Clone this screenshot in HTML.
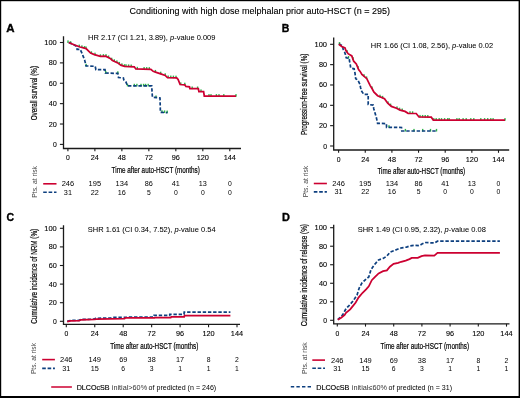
<!DOCTYPE html><html><head><meta charset="utf-8"><style>html,body{margin:0;padding:0;background:#fff;}svg{display:block;font-family:"Liberation Sans",sans-serif;filter:blur(0.3px);}</style></head><body>
<svg width="520" height="398" viewBox="0 0 520 398">
<rect x="0" y="0" width="520" height="398" fill="#fff"/>
<text x="129.5" y="13.9" font-size="9.1" text-anchor="start" font-weight="normal" font-style="normal" fill="#000" textLength="260.5" lengthAdjust="spacingAndGlyphs" stroke="#000" stroke-width="0.12">Conditioning with high dose melphalan prior auto-HSCT (n = 295)</text>
<text x="6.3" y="31.9" font-size="11" text-anchor="start" font-weight="bold" font-style="normal" fill="#000" textLength="8.3" lengthAdjust="spacingAndGlyphs" stroke="#000" stroke-width="0.35">A</text>
<text x="281.7" y="31.9" font-size="11" text-anchor="start" font-weight="bold" font-style="normal" fill="#000" textLength="7.6" lengthAdjust="spacingAndGlyphs" stroke="#000" stroke-width="0.35">B</text>
<text x="6.6" y="221.4" font-size="11" text-anchor="start" font-weight="bold" font-style="normal" fill="#000" textLength="7.6" lengthAdjust="spacingAndGlyphs" stroke="#000" stroke-width="0.35">C</text>
<text x="281.9" y="220.9" font-size="11" text-anchor="start" font-weight="bold" font-style="normal" fill="#000" textLength="7.9" lengthAdjust="spacingAndGlyphs" stroke="#000" stroke-width="0.35">D</text>
<path d="M63.5,36.3 L63.5,148.5 L241,148.5" fill="none" stroke="#1a1a1a" stroke-width="1.3" stroke-linejoin="miter" stroke-linecap="butt"/>
<line x1="59.9" y1="144.4" x2="63.5" y2="144.4" stroke="#1a1a1a" stroke-width="1.1"/>
<text x="53.0" y="146.9" font-size="7" text-anchor="start" font-weight="normal" font-style="normal" fill="#000" textLength="3.8" lengthAdjust="spacingAndGlyphs" stroke="#000" stroke-width="0.1">0</text>
<line x1="59.9" y1="124.02" x2="63.5" y2="124.02" stroke="#1a1a1a" stroke-width="1.1"/>
<text x="48.7" y="126.52" font-size="7" text-anchor="start" font-weight="normal" font-style="normal" fill="#000" textLength="8.1" lengthAdjust="spacingAndGlyphs" stroke="#000" stroke-width="0.1">20</text>
<line x1="59.9" y1="103.64" x2="63.5" y2="103.64" stroke="#1a1a1a" stroke-width="1.1"/>
<text x="48.7" y="106.14" font-size="7" text-anchor="start" font-weight="normal" font-style="normal" fill="#000" textLength="8.1" lengthAdjust="spacingAndGlyphs" stroke="#000" stroke-width="0.1">40</text>
<line x1="59.9" y1="83.26" x2="63.5" y2="83.26" stroke="#1a1a1a" stroke-width="1.1"/>
<text x="48.7" y="85.76" font-size="7" text-anchor="start" font-weight="normal" font-style="normal" fill="#000" textLength="8.1" lengthAdjust="spacingAndGlyphs" stroke="#000" stroke-width="0.1">60</text>
<line x1="59.9" y1="62.88" x2="63.5" y2="62.88" stroke="#1a1a1a" stroke-width="1.1"/>
<text x="48.7" y="65.38" font-size="7" text-anchor="start" font-weight="normal" font-style="normal" fill="#000" textLength="8.1" lengthAdjust="spacingAndGlyphs" stroke="#000" stroke-width="0.1">80</text>
<line x1="59.9" y1="42.5" x2="63.5" y2="42.5" stroke="#1a1a1a" stroke-width="1.1"/>
<text x="44.3" y="45.0" font-size="7" text-anchor="start" font-weight="normal" font-style="normal" fill="#000" textLength="12.5" lengthAdjust="spacingAndGlyphs" stroke="#000" stroke-width="0.1">100</text>
<line x1="67.9" y1="148.5" x2="67.9" y2="151.3" stroke="#1a1a1a" stroke-width="1.1"/>
<text x="66.0" y="160.4" font-size="7" text-anchor="start" font-weight="normal" font-style="normal" fill="#000" textLength="3.8" lengthAdjust="spacingAndGlyphs" stroke="#000" stroke-width="0.1">0</text>
<line x1="94.88" y1="148.5" x2="94.88" y2="151.3" stroke="#1a1a1a" stroke-width="1.1"/>
<text x="90.83" y="160.4" font-size="7" text-anchor="start" font-weight="normal" font-style="normal" fill="#000" textLength="8.1" lengthAdjust="spacingAndGlyphs" stroke="#000" stroke-width="0.1">24</text>
<line x1="121.87" y1="148.5" x2="121.87" y2="151.3" stroke="#1a1a1a" stroke-width="1.1"/>
<text x="117.82" y="160.4" font-size="7" text-anchor="start" font-weight="normal" font-style="normal" fill="#000" textLength="8.1" lengthAdjust="spacingAndGlyphs" stroke="#000" stroke-width="0.1">48</text>
<line x1="148.85" y1="148.5" x2="148.85" y2="151.3" stroke="#1a1a1a" stroke-width="1.1"/>
<text x="144.8" y="160.4" font-size="7" text-anchor="start" font-weight="normal" font-style="normal" fill="#000" textLength="8.1" lengthAdjust="spacingAndGlyphs" stroke="#000" stroke-width="0.1">72</text>
<line x1="175.83" y1="148.5" x2="175.83" y2="151.3" stroke="#1a1a1a" stroke-width="1.1"/>
<text x="171.78" y="160.4" font-size="7" text-anchor="start" font-weight="normal" font-style="normal" fill="#000" textLength="8.1" lengthAdjust="spacingAndGlyphs" stroke="#000" stroke-width="0.1">96</text>
<line x1="202.82" y1="148.5" x2="202.82" y2="151.3" stroke="#1a1a1a" stroke-width="1.1"/>
<text x="196.67" y="160.4" font-size="7" text-anchor="start" font-weight="normal" font-style="normal" fill="#000" textLength="12.3" lengthAdjust="spacingAndGlyphs" stroke="#000" stroke-width="0.1">120</text>
<line x1="229.8" y1="148.5" x2="229.8" y2="151.3" stroke="#1a1a1a" stroke-width="1.1"/>
<text x="223.65" y="160.4" font-size="7" text-anchor="start" font-weight="normal" font-style="normal" fill="#000" textLength="12.3" lengthAdjust="spacingAndGlyphs" stroke="#000" stroke-width="0.1">144</text>
<text x="111.6" y="173.1" font-size="8.5" text-anchor="start" font-weight="normal" font-style="normal" fill="#000" textLength="88.3" lengthAdjust="spacingAndGlyphs" stroke="#000" stroke-width="0.2">Time after auto-HSCT (months)</text>
<g transform="translate(37.0,120.3) rotate(-90)">
<text x="0" y="0" font-size="8.9" text-anchor="start" font-weight="normal" font-style="normal" fill="#000" textLength="54.3" lengthAdjust="spacingAndGlyphs" stroke="#000" stroke-width="0.2">Overall survival (%)</text>
</g>
<g transform="translate(37.2,197.7) rotate(-90)">
<text x="0" y="0" font-size="7.9" text-anchor="start" font-weight="normal" font-style="normal" fill="#444" textLength="31.7" lengthAdjust="spacingAndGlyphs">Pts. at risk</text>
</g>
<line x1="43.2" y1="183.8" x2="56.5" y2="183.8" stroke="#cc0031" stroke-width="1.6"/>
<line x1="43.2" y1="192.3" x2="56.5" y2="192.3" stroke="#0d3f7f" stroke-width="1.6" stroke-dasharray="3.6 1.8"/>
<text x="61.65" y="186.3" font-size="7" text-anchor="start" font-weight="normal" font-style="normal" fill="#000" textLength="12.5" lengthAdjust="spacingAndGlyphs">246</text>
<text x="63.85" y="194.8" font-size="7" text-anchor="start" font-weight="normal" font-style="normal" fill="#000" textLength="8.1" lengthAdjust="spacingAndGlyphs">31</text>
<text x="88.63" y="186.3" font-size="7" text-anchor="start" font-weight="normal" font-style="normal" fill="#000" textLength="12.5" lengthAdjust="spacingAndGlyphs">195</text>
<text x="90.83" y="194.8" font-size="7" text-anchor="start" font-weight="normal" font-style="normal" fill="#000" textLength="8.1" lengthAdjust="spacingAndGlyphs">22</text>
<text x="115.62" y="186.3" font-size="7" text-anchor="start" font-weight="normal" font-style="normal" fill="#000" textLength="12.5" lengthAdjust="spacingAndGlyphs">134</text>
<text x="117.82" y="194.8" font-size="7" text-anchor="start" font-weight="normal" font-style="normal" fill="#000" textLength="8.1" lengthAdjust="spacingAndGlyphs">16</text>
<text x="144.8" y="186.3" font-size="7" text-anchor="start" font-weight="normal" font-style="normal" fill="#000" textLength="8.1" lengthAdjust="spacingAndGlyphs">86</text>
<text x="146.95" y="194.8" font-size="7" text-anchor="start" font-weight="normal" font-style="normal" fill="#000" textLength="3.8" lengthAdjust="spacingAndGlyphs">5</text>
<text x="171.78" y="186.3" font-size="7" text-anchor="start" font-weight="normal" font-style="normal" fill="#000" textLength="8.1" lengthAdjust="spacingAndGlyphs">41</text>
<text x="173.93" y="194.8" font-size="7" text-anchor="start" font-weight="normal" font-style="normal" fill="#000" textLength="3.8" lengthAdjust="spacingAndGlyphs">0</text>
<text x="198.77" y="186.3" font-size="7" text-anchor="start" font-weight="normal" font-style="normal" fill="#000" textLength="8.1" lengthAdjust="spacingAndGlyphs">13</text>
<text x="200.92" y="194.8" font-size="7" text-anchor="start" font-weight="normal" font-style="normal" fill="#000" textLength="3.8" lengthAdjust="spacingAndGlyphs">0</text>
<text x="227.9" y="186.3" font-size="7" text-anchor="start" font-weight="normal" font-style="normal" fill="#000" textLength="3.8" lengthAdjust="spacingAndGlyphs">0</text>
<text x="227.9" y="194.8" font-size="7" text-anchor="start" font-weight="normal" font-style="normal" fill="#000" textLength="3.8" lengthAdjust="spacingAndGlyphs">0</text>
<path d="M333.7,37.5 L333.7,150 L509.2,150" fill="none" stroke="#1a1a1a" stroke-width="1.3" stroke-linejoin="miter" stroke-linecap="butt"/>
<line x1="330.09999999999997" y1="146.0" x2="333.7" y2="146.0" stroke="#1a1a1a" stroke-width="1.1"/>
<text x="323.2" y="148.5" font-size="7" text-anchor="start" font-weight="normal" font-style="normal" fill="#000" textLength="3.8" lengthAdjust="spacingAndGlyphs" stroke="#000" stroke-width="0.1">0</text>
<line x1="330.09999999999997" y1="125.66" x2="333.7" y2="125.66" stroke="#1a1a1a" stroke-width="1.1"/>
<text x="318.9" y="128.16" font-size="7" text-anchor="start" font-weight="normal" font-style="normal" fill="#000" textLength="8.1" lengthAdjust="spacingAndGlyphs" stroke="#000" stroke-width="0.1">20</text>
<line x1="330.09999999999997" y1="105.32" x2="333.7" y2="105.32" stroke="#1a1a1a" stroke-width="1.1"/>
<text x="318.9" y="107.82" font-size="7" text-anchor="start" font-weight="normal" font-style="normal" fill="#000" textLength="8.1" lengthAdjust="spacingAndGlyphs" stroke="#000" stroke-width="0.1">40</text>
<line x1="330.09999999999997" y1="84.98" x2="333.7" y2="84.98" stroke="#1a1a1a" stroke-width="1.1"/>
<text x="318.9" y="87.48" font-size="7" text-anchor="start" font-weight="normal" font-style="normal" fill="#000" textLength="8.1" lengthAdjust="spacingAndGlyphs" stroke="#000" stroke-width="0.1">60</text>
<line x1="330.09999999999997" y1="64.64" x2="333.7" y2="64.64" stroke="#1a1a1a" stroke-width="1.1"/>
<text x="318.9" y="67.14" font-size="7" text-anchor="start" font-weight="normal" font-style="normal" fill="#000" textLength="8.1" lengthAdjust="spacingAndGlyphs" stroke="#000" stroke-width="0.1">80</text>
<line x1="330.09999999999997" y1="44.3" x2="333.7" y2="44.3" stroke="#1a1a1a" stroke-width="1.1"/>
<text x="314.5" y="46.8" font-size="7" text-anchor="start" font-weight="normal" font-style="normal" fill="#000" textLength="12.5" lengthAdjust="spacingAndGlyphs" stroke="#000" stroke-width="0.1">100</text>
<line x1="338.6" y1="150" x2="338.6" y2="152.8" stroke="#1a1a1a" stroke-width="1.1"/>
<text x="336.7" y="161.8" font-size="7" text-anchor="start" font-weight="normal" font-style="normal" fill="#000" textLength="3.8" lengthAdjust="spacingAndGlyphs" stroke="#000" stroke-width="0.1">0</text>
<line x1="365.25" y1="150" x2="365.25" y2="152.8" stroke="#1a1a1a" stroke-width="1.1"/>
<text x="361.2" y="161.8" font-size="7" text-anchor="start" font-weight="normal" font-style="normal" fill="#000" textLength="8.1" lengthAdjust="spacingAndGlyphs" stroke="#000" stroke-width="0.1">24</text>
<line x1="391.9" y1="150" x2="391.9" y2="152.8" stroke="#1a1a1a" stroke-width="1.1"/>
<text x="387.85" y="161.8" font-size="7" text-anchor="start" font-weight="normal" font-style="normal" fill="#000" textLength="8.1" lengthAdjust="spacingAndGlyphs" stroke="#000" stroke-width="0.1">48</text>
<line x1="418.55" y1="150" x2="418.55" y2="152.8" stroke="#1a1a1a" stroke-width="1.1"/>
<text x="414.5" y="161.8" font-size="7" text-anchor="start" font-weight="normal" font-style="normal" fill="#000" textLength="8.1" lengthAdjust="spacingAndGlyphs" stroke="#000" stroke-width="0.1">72</text>
<line x1="445.2" y1="150" x2="445.2" y2="152.8" stroke="#1a1a1a" stroke-width="1.1"/>
<text x="441.15" y="161.8" font-size="7" text-anchor="start" font-weight="normal" font-style="normal" fill="#000" textLength="8.1" lengthAdjust="spacingAndGlyphs" stroke="#000" stroke-width="0.1">96</text>
<line x1="471.85" y1="150" x2="471.85" y2="152.8" stroke="#1a1a1a" stroke-width="1.1"/>
<text x="465.7" y="161.8" font-size="7" text-anchor="start" font-weight="normal" font-style="normal" fill="#000" textLength="12.3" lengthAdjust="spacingAndGlyphs" stroke="#000" stroke-width="0.1">120</text>
<line x1="498.5" y1="150" x2="498.5" y2="152.8" stroke="#1a1a1a" stroke-width="1.1"/>
<text x="492.35" y="161.8" font-size="7" text-anchor="start" font-weight="normal" font-style="normal" fill="#000" textLength="12.3" lengthAdjust="spacingAndGlyphs" stroke="#000" stroke-width="0.1">144</text>
<text x="377.4" y="174.4" font-size="8.5" text-anchor="start" font-weight="normal" font-style="normal" fill="#000" textLength="87.8" lengthAdjust="spacingAndGlyphs" stroke="#000" stroke-width="0.2">Time after auto-HSCT (months)</text>
<g transform="translate(307.3,135) rotate(-90)">
<text x="0" y="0" font-size="8.9" text-anchor="start" font-weight="normal" font-style="normal" fill="#000" textLength="81.4" lengthAdjust="spacingAndGlyphs" stroke="#000" stroke-width="0.2">Progression-free survival (%)</text>
</g>
<g transform="translate(308.4,197.3) rotate(-90)">
<text x="0" y="0" font-size="7.9" text-anchor="start" font-weight="normal" font-style="normal" fill="#444" textLength="31.5" lengthAdjust="spacingAndGlyphs">Pts. at risk</text>
</g>
<line x1="313.8" y1="183.5" x2="326.9" y2="183.5" stroke="#cc0031" stroke-width="1.6"/>
<line x1="313.8" y1="191.9" x2="326.9" y2="191.9" stroke="#0d3f7f" stroke-width="1.6" stroke-dasharray="3.6 1.8"/>
<text x="332.35" y="186.0" font-size="7" text-anchor="start" font-weight="normal" font-style="normal" fill="#000" textLength="12.5" lengthAdjust="spacingAndGlyphs">246</text>
<text x="334.55" y="194.4" font-size="7" text-anchor="start" font-weight="normal" font-style="normal" fill="#000" textLength="8.1" lengthAdjust="spacingAndGlyphs">31</text>
<text x="359.0" y="186.0" font-size="7" text-anchor="start" font-weight="normal" font-style="normal" fill="#000" textLength="12.5" lengthAdjust="spacingAndGlyphs">195</text>
<text x="361.2" y="194.4" font-size="7" text-anchor="start" font-weight="normal" font-style="normal" fill="#000" textLength="8.1" lengthAdjust="spacingAndGlyphs">22</text>
<text x="385.65" y="186.0" font-size="7" text-anchor="start" font-weight="normal" font-style="normal" fill="#000" textLength="12.5" lengthAdjust="spacingAndGlyphs">134</text>
<text x="387.85" y="194.4" font-size="7" text-anchor="start" font-weight="normal" font-style="normal" fill="#000" textLength="8.1" lengthAdjust="spacingAndGlyphs">16</text>
<text x="414.5" y="186.0" font-size="7" text-anchor="start" font-weight="normal" font-style="normal" fill="#000" textLength="8.1" lengthAdjust="spacingAndGlyphs">86</text>
<text x="416.65" y="194.4" font-size="7" text-anchor="start" font-weight="normal" font-style="normal" fill="#000" textLength="3.8" lengthAdjust="spacingAndGlyphs">5</text>
<text x="441.15" y="186.0" font-size="7" text-anchor="start" font-weight="normal" font-style="normal" fill="#000" textLength="8.1" lengthAdjust="spacingAndGlyphs">41</text>
<text x="443.3" y="194.4" font-size="7" text-anchor="start" font-weight="normal" font-style="normal" fill="#000" textLength="3.8" lengthAdjust="spacingAndGlyphs">0</text>
<text x="467.8" y="186.0" font-size="7" text-anchor="start" font-weight="normal" font-style="normal" fill="#000" textLength="8.1" lengthAdjust="spacingAndGlyphs">13</text>
<text x="469.95" y="194.4" font-size="7" text-anchor="start" font-weight="normal" font-style="normal" fill="#000" textLength="3.8" lengthAdjust="spacingAndGlyphs">0</text>
<text x="496.6" y="186.0" font-size="7" text-anchor="start" font-weight="normal" font-style="normal" fill="#000" textLength="3.8" lengthAdjust="spacingAndGlyphs">0</text>
<text x="496.6" y="194.4" font-size="7" text-anchor="start" font-weight="normal" font-style="normal" fill="#000" textLength="3.8" lengthAdjust="spacingAndGlyphs">0</text>
<path d="M63.5,225.2 L63.5,324.4 L240,324.4" fill="none" stroke="#1a1a1a" stroke-width="1.3" stroke-linejoin="miter" stroke-linecap="butt"/>
<line x1="59.9" y1="321.3" x2="63.5" y2="321.3" stroke="#1a1a1a" stroke-width="1.1"/>
<text x="53.0" y="323.8" font-size="7" text-anchor="start" font-weight="normal" font-style="normal" fill="#000" textLength="3.8" lengthAdjust="spacingAndGlyphs" stroke="#000" stroke-width="0.1">0</text>
<line x1="59.9" y1="302.7" x2="63.5" y2="302.7" stroke="#1a1a1a" stroke-width="1.1"/>
<text x="48.7" y="305.2" font-size="7" text-anchor="start" font-weight="normal" font-style="normal" fill="#000" textLength="8.1" lengthAdjust="spacingAndGlyphs" stroke="#000" stroke-width="0.1">20</text>
<line x1="59.9" y1="284.1" x2="63.5" y2="284.1" stroke="#1a1a1a" stroke-width="1.1"/>
<text x="48.7" y="286.6" font-size="7" text-anchor="start" font-weight="normal" font-style="normal" fill="#000" textLength="8.1" lengthAdjust="spacingAndGlyphs" stroke="#000" stroke-width="0.1">40</text>
<line x1="59.9" y1="265.5" x2="63.5" y2="265.5" stroke="#1a1a1a" stroke-width="1.1"/>
<text x="48.7" y="268.0" font-size="7" text-anchor="start" font-weight="normal" font-style="normal" fill="#000" textLength="8.1" lengthAdjust="spacingAndGlyphs" stroke="#000" stroke-width="0.1">60</text>
<line x1="59.9" y1="246.9" x2="63.5" y2="246.9" stroke="#1a1a1a" stroke-width="1.1"/>
<text x="48.7" y="249.4" font-size="7" text-anchor="start" font-weight="normal" font-style="normal" fill="#000" textLength="8.1" lengthAdjust="spacingAndGlyphs" stroke="#000" stroke-width="0.1">80</text>
<line x1="59.9" y1="228.3" x2="63.5" y2="228.3" stroke="#1a1a1a" stroke-width="1.1"/>
<text x="44.3" y="230.8" font-size="7" text-anchor="start" font-weight="normal" font-style="normal" fill="#000" textLength="12.5" lengthAdjust="spacingAndGlyphs" stroke="#000" stroke-width="0.1">100</text>
<line x1="66.3" y1="324.4" x2="66.3" y2="327.2" stroke="#1a1a1a" stroke-width="1.1"/>
<text x="64.4" y="336.4" font-size="7" text-anchor="start" font-weight="normal" font-style="normal" fill="#000" textLength="3.8" lengthAdjust="spacingAndGlyphs" stroke="#000" stroke-width="0.1">0</text>
<line x1="94.75" y1="324.4" x2="94.75" y2="327.2" stroke="#1a1a1a" stroke-width="1.1"/>
<text x="90.7" y="336.4" font-size="7" text-anchor="start" font-weight="normal" font-style="normal" fill="#000" textLength="8.1" lengthAdjust="spacingAndGlyphs" stroke="#000" stroke-width="0.1">24</text>
<line x1="123.2" y1="324.4" x2="123.2" y2="327.2" stroke="#1a1a1a" stroke-width="1.1"/>
<text x="119.15" y="336.4" font-size="7" text-anchor="start" font-weight="normal" font-style="normal" fill="#000" textLength="8.1" lengthAdjust="spacingAndGlyphs" stroke="#000" stroke-width="0.1">48</text>
<line x1="151.65" y1="324.4" x2="151.65" y2="327.2" stroke="#1a1a1a" stroke-width="1.1"/>
<text x="147.6" y="336.4" font-size="7" text-anchor="start" font-weight="normal" font-style="normal" fill="#000" textLength="8.1" lengthAdjust="spacingAndGlyphs" stroke="#000" stroke-width="0.1">72</text>
<line x1="180.1" y1="324.4" x2="180.1" y2="327.2" stroke="#1a1a1a" stroke-width="1.1"/>
<text x="176.05" y="336.4" font-size="7" text-anchor="start" font-weight="normal" font-style="normal" fill="#000" textLength="8.1" lengthAdjust="spacingAndGlyphs" stroke="#000" stroke-width="0.1">96</text>
<line x1="208.55" y1="324.4" x2="208.55" y2="327.2" stroke="#1a1a1a" stroke-width="1.1"/>
<text x="202.4" y="336.4" font-size="7" text-anchor="start" font-weight="normal" font-style="normal" fill="#000" textLength="12.3" lengthAdjust="spacingAndGlyphs" stroke="#000" stroke-width="0.1">120</text>
<line x1="237.0" y1="324.4" x2="237.0" y2="327.2" stroke="#1a1a1a" stroke-width="1.1"/>
<text x="230.85" y="336.4" font-size="7" text-anchor="start" font-weight="normal" font-style="normal" fill="#000" textLength="12.3" lengthAdjust="spacingAndGlyphs" stroke="#000" stroke-width="0.1">144</text>
<text x="110.2" y="348.8" font-size="8.5" text-anchor="start" font-weight="normal" font-style="normal" fill="#000" textLength="88.2" lengthAdjust="spacingAndGlyphs" stroke="#000" stroke-width="0.2">Time after auto-HSCT (months)</text>
<g transform="translate(36.9,323.7) rotate(-90)">
<text x="0" y="0" font-size="8.9" text-anchor="start" font-weight="normal" font-style="normal" fill="#000" textLength="94.9" lengthAdjust="spacingAndGlyphs" stroke="#000" stroke-width="0.2">Cumulative incidence of NRM (%)</text>
</g>
<g transform="translate(36.1,374.1) rotate(-90)">
<text x="0" y="0" font-size="7.9" text-anchor="start" font-weight="normal" font-style="normal" fill="#444" textLength="31.1" lengthAdjust="spacingAndGlyphs">Pts. at risk</text>
</g>
<line x1="42.2" y1="359.6" x2="54.9" y2="359.6" stroke="#cc0031" stroke-width="1.6"/>
<line x1="42.2" y1="368.4" x2="54.9" y2="368.4" stroke="#0d3f7f" stroke-width="1.6" stroke-dasharray="3.6 1.8"/>
<text x="60.05" y="362.1" font-size="7" text-anchor="start" font-weight="normal" font-style="normal" fill="#000" textLength="12.5" lengthAdjust="spacingAndGlyphs">246</text>
<text x="62.25" y="370.9" font-size="7" text-anchor="start" font-weight="normal" font-style="normal" fill="#000" textLength="8.1" lengthAdjust="spacingAndGlyphs">31</text>
<text x="88.5" y="362.1" font-size="7" text-anchor="start" font-weight="normal" font-style="normal" fill="#000" textLength="12.5" lengthAdjust="spacingAndGlyphs">149</text>
<text x="90.7" y="370.9" font-size="7" text-anchor="start" font-weight="normal" font-style="normal" fill="#000" textLength="8.1" lengthAdjust="spacingAndGlyphs">15</text>
<text x="119.15" y="362.1" font-size="7" text-anchor="start" font-weight="normal" font-style="normal" fill="#000" textLength="8.1" lengthAdjust="spacingAndGlyphs">69</text>
<text x="121.3" y="370.9" font-size="7" text-anchor="start" font-weight="normal" font-style="normal" fill="#000" textLength="3.8" lengthAdjust="spacingAndGlyphs">6</text>
<text x="147.6" y="362.1" font-size="7" text-anchor="start" font-weight="normal" font-style="normal" fill="#000" textLength="8.1" lengthAdjust="spacingAndGlyphs">38</text>
<text x="149.75" y="370.9" font-size="7" text-anchor="start" font-weight="normal" font-style="normal" fill="#000" textLength="3.8" lengthAdjust="spacingAndGlyphs">3</text>
<text x="176.05" y="362.1" font-size="7" text-anchor="start" font-weight="normal" font-style="normal" fill="#000" textLength="8.1" lengthAdjust="spacingAndGlyphs">17</text>
<text x="178.2" y="370.9" font-size="7" text-anchor="start" font-weight="normal" font-style="normal" fill="#000" textLength="3.8" lengthAdjust="spacingAndGlyphs">1</text>
<text x="206.65" y="362.1" font-size="7" text-anchor="start" font-weight="normal" font-style="normal" fill="#000" textLength="3.8" lengthAdjust="spacingAndGlyphs">8</text>
<text x="206.65" y="370.9" font-size="7" text-anchor="start" font-weight="normal" font-style="normal" fill="#000" textLength="3.8" lengthAdjust="spacingAndGlyphs">1</text>
<text x="235.1" y="362.1" font-size="7" text-anchor="start" font-weight="normal" font-style="normal" fill="#000" textLength="3.8" lengthAdjust="spacingAndGlyphs">2</text>
<text x="235.1" y="370.9" font-size="7" text-anchor="start" font-weight="normal" font-style="normal" fill="#000" textLength="3.8" lengthAdjust="spacingAndGlyphs">1</text>
<path d="M333.7,224.8 L333.7,323.8 L509.5,323.8" fill="none" stroke="#1a1a1a" stroke-width="1.3" stroke-linejoin="miter" stroke-linecap="butt"/>
<line x1="330.09999999999997" y1="320.3" x2="333.7" y2="320.3" stroke="#1a1a1a" stroke-width="1.1"/>
<text x="323.2" y="322.8" font-size="7" text-anchor="start" font-weight="normal" font-style="normal" fill="#000" textLength="3.8" lengthAdjust="spacingAndGlyphs" stroke="#000" stroke-width="0.1">0</text>
<line x1="330.09999999999997" y1="301.78" x2="333.7" y2="301.78" stroke="#1a1a1a" stroke-width="1.1"/>
<text x="318.9" y="304.28" font-size="7" text-anchor="start" font-weight="normal" font-style="normal" fill="#000" textLength="8.1" lengthAdjust="spacingAndGlyphs" stroke="#000" stroke-width="0.1">20</text>
<line x1="330.09999999999997" y1="283.26" x2="333.7" y2="283.26" stroke="#1a1a1a" stroke-width="1.1"/>
<text x="318.9" y="285.76" font-size="7" text-anchor="start" font-weight="normal" font-style="normal" fill="#000" textLength="8.1" lengthAdjust="spacingAndGlyphs" stroke="#000" stroke-width="0.1">40</text>
<line x1="330.09999999999997" y1="264.74" x2="333.7" y2="264.74" stroke="#1a1a1a" stroke-width="1.1"/>
<text x="318.9" y="267.24" font-size="7" text-anchor="start" font-weight="normal" font-style="normal" fill="#000" textLength="8.1" lengthAdjust="spacingAndGlyphs" stroke="#000" stroke-width="0.1">60</text>
<line x1="330.09999999999997" y1="246.22" x2="333.7" y2="246.22" stroke="#1a1a1a" stroke-width="1.1"/>
<text x="318.9" y="248.72" font-size="7" text-anchor="start" font-weight="normal" font-style="normal" fill="#000" textLength="8.1" lengthAdjust="spacingAndGlyphs" stroke="#000" stroke-width="0.1">80</text>
<line x1="330.09999999999997" y1="227.7" x2="333.7" y2="227.7" stroke="#1a1a1a" stroke-width="1.1"/>
<text x="314.5" y="230.2" font-size="7" text-anchor="start" font-weight="normal" font-style="normal" fill="#000" textLength="12.5" lengthAdjust="spacingAndGlyphs" stroke="#000" stroke-width="0.1">100</text>
<line x1="337.3" y1="323.8" x2="337.3" y2="326.6" stroke="#1a1a1a" stroke-width="1.1"/>
<text x="335.4" y="336.2" font-size="7" text-anchor="start" font-weight="normal" font-style="normal" fill="#000" textLength="3.8" lengthAdjust="spacingAndGlyphs" stroke="#000" stroke-width="0.1">0</text>
<line x1="365.5" y1="323.8" x2="365.5" y2="326.6" stroke="#1a1a1a" stroke-width="1.1"/>
<text x="361.45" y="336.2" font-size="7" text-anchor="start" font-weight="normal" font-style="normal" fill="#000" textLength="8.1" lengthAdjust="spacingAndGlyphs" stroke="#000" stroke-width="0.1">24</text>
<line x1="393.7" y1="323.8" x2="393.7" y2="326.6" stroke="#1a1a1a" stroke-width="1.1"/>
<text x="389.65" y="336.2" font-size="7" text-anchor="start" font-weight="normal" font-style="normal" fill="#000" textLength="8.1" lengthAdjust="spacingAndGlyphs" stroke="#000" stroke-width="0.1">48</text>
<line x1="421.9" y1="323.8" x2="421.9" y2="326.6" stroke="#1a1a1a" stroke-width="1.1"/>
<text x="417.85" y="336.2" font-size="7" text-anchor="start" font-weight="normal" font-style="normal" fill="#000" textLength="8.1" lengthAdjust="spacingAndGlyphs" stroke="#000" stroke-width="0.1">72</text>
<line x1="450.1" y1="323.8" x2="450.1" y2="326.6" stroke="#1a1a1a" stroke-width="1.1"/>
<text x="446.05" y="336.2" font-size="7" text-anchor="start" font-weight="normal" font-style="normal" fill="#000" textLength="8.1" lengthAdjust="spacingAndGlyphs" stroke="#000" stroke-width="0.1">96</text>
<line x1="478.3" y1="323.8" x2="478.3" y2="326.6" stroke="#1a1a1a" stroke-width="1.1"/>
<text x="472.15" y="336.2" font-size="7" text-anchor="start" font-weight="normal" font-style="normal" fill="#000" textLength="12.3" lengthAdjust="spacingAndGlyphs" stroke="#000" stroke-width="0.1">120</text>
<line x1="506.5" y1="323.8" x2="506.5" y2="326.6" stroke="#1a1a1a" stroke-width="1.1"/>
<text x="500.35" y="336.2" font-size="7" text-anchor="start" font-weight="normal" font-style="normal" fill="#000" textLength="12.3" lengthAdjust="spacingAndGlyphs" stroke="#000" stroke-width="0.1">144</text>
<text x="380.6" y="348.8" font-size="8.5" text-anchor="start" font-weight="normal" font-style="normal" fill="#000" textLength="88.4" lengthAdjust="spacingAndGlyphs" stroke="#000" stroke-width="0.2">Time after auto-HSCT (months)</text>
<g transform="translate(307.3,326.3) rotate(-90)">
<text x="0" y="0" font-size="8.9" text-anchor="start" font-weight="normal" font-style="normal" fill="#000" textLength="102.3" lengthAdjust="spacingAndGlyphs" stroke="#000" stroke-width="0.2">Cumulative incidence of relapse (%)</text>
</g>
<g transform="translate(307.4,373.9) rotate(-90)">
<text x="0" y="0" font-size="7.9" text-anchor="start" font-weight="normal" font-style="normal" fill="#444" textLength="31.6" lengthAdjust="spacingAndGlyphs">Pts. at risk</text>
</g>
<line x1="312.3" y1="360.1" x2="325" y2="360.1" stroke="#cc0031" stroke-width="1.6"/>
<line x1="312.3" y1="368.2" x2="325" y2="368.2" stroke="#0d3f7f" stroke-width="1.6" stroke-dasharray="3.6 1.8"/>
<text x="331.05" y="362.6" font-size="7" text-anchor="start" font-weight="normal" font-style="normal" fill="#000" textLength="12.5" lengthAdjust="spacingAndGlyphs">246</text>
<text x="333.25" y="370.7" font-size="7" text-anchor="start" font-weight="normal" font-style="normal" fill="#000" textLength="8.1" lengthAdjust="spacingAndGlyphs">31</text>
<text x="359.25" y="362.6" font-size="7" text-anchor="start" font-weight="normal" font-style="normal" fill="#000" textLength="12.5" lengthAdjust="spacingAndGlyphs">149</text>
<text x="361.45" y="370.7" font-size="7" text-anchor="start" font-weight="normal" font-style="normal" fill="#000" textLength="8.1" lengthAdjust="spacingAndGlyphs">15</text>
<text x="389.65" y="362.6" font-size="7" text-anchor="start" font-weight="normal" font-style="normal" fill="#000" textLength="8.1" lengthAdjust="spacingAndGlyphs">69</text>
<text x="391.8" y="370.7" font-size="7" text-anchor="start" font-weight="normal" font-style="normal" fill="#000" textLength="3.8" lengthAdjust="spacingAndGlyphs">6</text>
<text x="417.85" y="362.6" font-size="7" text-anchor="start" font-weight="normal" font-style="normal" fill="#000" textLength="8.1" lengthAdjust="spacingAndGlyphs">38</text>
<text x="420.0" y="370.7" font-size="7" text-anchor="start" font-weight="normal" font-style="normal" fill="#000" textLength="3.8" lengthAdjust="spacingAndGlyphs">3</text>
<text x="446.05" y="362.6" font-size="7" text-anchor="start" font-weight="normal" font-style="normal" fill="#000" textLength="8.1" lengthAdjust="spacingAndGlyphs">17</text>
<text x="448.2" y="370.7" font-size="7" text-anchor="start" font-weight="normal" font-style="normal" fill="#000" textLength="3.8" lengthAdjust="spacingAndGlyphs">1</text>
<text x="476.4" y="362.6" font-size="7" text-anchor="start" font-weight="normal" font-style="normal" fill="#000" textLength="3.8" lengthAdjust="spacingAndGlyphs">8</text>
<text x="476.4" y="370.7" font-size="7" text-anchor="start" font-weight="normal" font-style="normal" fill="#000" textLength="3.8" lengthAdjust="spacingAndGlyphs">1</text>
<text x="504.6" y="362.6" font-size="7" text-anchor="start" font-weight="normal" font-style="normal" fill="#000" textLength="3.8" lengthAdjust="spacingAndGlyphs">2</text>
<text x="504.6" y="370.7" font-size="7" text-anchor="start" font-weight="normal" font-style="normal" fill="#000" textLength="3.8" lengthAdjust="spacingAndGlyphs">1</text>
<text x="88.1" y="39.7" font-size="7.9" fill="#000" stroke="#000" stroke-width="0.04" textLength="127.4" lengthAdjust="spacingAndGlyphs">HR 2.17 (CI 1.21, 3.89), <tspan font-style="italic">p</tspan>-value 0.009</text>
<text x="370.8" y="47.7" font-size="7.9" fill="#000" stroke="#000" stroke-width="0.04" textLength="122.3" lengthAdjust="spacingAndGlyphs">HR 1.66 (CI 1.08, 2.56), <tspan font-style="italic">p</tspan>-value 0.02</text>
<text x="87.8" y="232.2" font-size="7.9" fill="#000" stroke="#000" stroke-width="0.04" textLength="127.8" lengthAdjust="spacingAndGlyphs">SHR 1.61 (CI 0.34, 7.52), <tspan font-style="italic">p</tspan>-value 0.54</text>
<text x="357.7" y="232.1" font-size="7.9" fill="#000" stroke="#000" stroke-width="0.04" textLength="128.2" lengthAdjust="spacingAndGlyphs">SHR 1.49 (CI 0.95, 2.32), <tspan font-style="italic">p</tspan>-value 0.08</text>
<rect x="67.3" y="40.4" width="1.4" height="2.6" fill="#2fb34a"/>
<rect x="69.89999999999999" y="41.2" width="1.4" height="2.6" fill="#2fb34a"/>
<rect x="78.6" y="44.61" width="1.4" height="2.6" fill="#2fb34a"/>
<rect x="81.2" y="45.38" width="1.4" height="2.6" fill="#2fb34a"/>
<rect x="83.8" y="46.07" width="1.4" height="2.6" fill="#2fb34a"/>
<rect x="85.3" y="46.47" width="1.4" height="2.6" fill="#2fb34a"/>
<rect x="90.7" y="51.32" width="1.4" height="2.6" fill="#2fb34a"/>
<rect x="94.3" y="52.68" width="1.4" height="2.6" fill="#2fb34a"/>
<rect x="99.7" y="54.3" width="1.4" height="2.6" fill="#2fb34a"/>
<rect x="102.7" y="54.13" width="1.4" height="2.6" fill="#2fb34a"/>
<rect x="105.3" y="54.15" width="1.4" height="2.6" fill="#2fb34a"/>
<rect x="107.89999999999999" y="55.48" width="1.4" height="2.6" fill="#2fb34a"/>
<rect x="111.0" y="57.73" width="1.4" height="2.6" fill="#2fb34a"/>
<rect x="113.6" y="59.28" width="1.4" height="2.6" fill="#2fb34a"/>
<rect x="116.2" y="60.41" width="1.4" height="2.6" fill="#2fb34a"/>
<rect x="118.6" y="61.9" width="1.4" height="2.6" fill="#2fb34a"/>
<rect x="121.2" y="63.36" width="1.4" height="2.6" fill="#2fb34a"/>
<rect x="123.8" y="64.2" width="1.4" height="2.6" fill="#2fb34a"/>
<rect x="125.3" y="64.28" width="1.4" height="2.6" fill="#2fb34a"/>
<rect x="127.89999999999999" y="64.41" width="1.4" height="2.6" fill="#2fb34a"/>
<rect x="130.5" y="64.54" width="1.4" height="2.6" fill="#2fb34a"/>
<rect x="136.60000000000002" y="66.84" width="1.4" height="2.6" fill="#2fb34a"/>
<rect x="143.4" y="67.02" width="1.4" height="2.6" fill="#2fb34a"/>
<rect x="146.0" y="67.09" width="1.4" height="2.6" fill="#2fb34a"/>
<rect x="148.60000000000002" y="67.16" width="1.4" height="2.6" fill="#2fb34a"/>
<rect x="154.70000000000002" y="69.93" width="1.4" height="2.6" fill="#2fb34a"/>
<rect x="160.0" y="71.7" width="1.4" height="2.6" fill="#2fb34a"/>
<rect x="164.5" y="73.3" width="1.4" height="2.6" fill="#2fb34a"/>
<rect x="167.5" y="75.52" width="1.4" height="2.6" fill="#2fb34a"/>
<rect x="170.10000000000002" y="75.57" width="1.4" height="2.6" fill="#2fb34a"/>
<rect x="172.70000000000002" y="75.63" width="1.4" height="2.6" fill="#2fb34a"/>
<rect x="175.3" y="75.68" width="1.4" height="2.6" fill="#2fb34a"/>
<rect x="180.10000000000002" y="82.44" width="1.4" height="2.6" fill="#2fb34a"/>
<rect x="184.10000000000002" y="82.7" width="1.4" height="2.6" fill="#2fb34a"/>
<rect x="191.5" y="86.5" width="1.4" height="2.6" fill="#2fb34a"/>
<rect x="196.9" y="86.5" width="1.4" height="2.6" fill="#2fb34a"/>
<rect x="200.3" y="89.4" width="1.4" height="2.6" fill="#2fb34a"/>
<rect x="208.3" y="94.1" width="1.4" height="2.6" fill="#2fb34a"/>
<rect x="210.3" y="94.1" width="1.4" height="2.6" fill="#2fb34a"/>
<rect x="215.70000000000002" y="94.1" width="1.4" height="2.6" fill="#2fb34a"/>
<rect x="218.3" y="94.1" width="1.4" height="2.6" fill="#2fb34a"/>
<rect x="223.10000000000002" y="94.1" width="1.4" height="2.6" fill="#2fb34a"/>
<rect x="235.3" y="94.1" width="1.4" height="2.6" fill="#2fb34a"/>
<rect x="85.39999999999999" y="63.8" width="1.4" height="2.6" fill="#2fb34a"/>
<rect x="105.0" y="70.91" width="1.4" height="2.6" fill="#2fb34a"/>
<rect x="117.1" y="71.3" width="1.4" height="2.6" fill="#2fb34a"/>
<rect x="126.8" y="83.8" width="1.4" height="2.6" fill="#2fb34a"/>
<rect x="133.60000000000002" y="83.8" width="1.4" height="2.6" fill="#2fb34a"/>
<rect x="136.20000000000002" y="83.8" width="1.4" height="2.6" fill="#2fb34a"/>
<rect x="140.3" y="83.8" width="1.4" height="2.6" fill="#2fb34a"/>
<rect x="142.9" y="83.8" width="1.4" height="2.6" fill="#2fb34a"/>
<rect x="144.9" y="83.8" width="1.4" height="2.6" fill="#2fb34a"/>
<rect x="147.5" y="83.8" width="1.4" height="2.6" fill="#2fb34a"/>
<rect x="155.3" y="95.48" width="1.4" height="2.6" fill="#2fb34a"/>
<rect x="161.3" y="110.29" width="1.4" height="2.6" fill="#2fb34a"/>
<rect x="163.9" y="110.44" width="1.4" height="2.6" fill="#2fb34a"/>
<rect x="166.5" y="110.58" width="1.4" height="2.6" fill="#2fb34a"/>
<rect x="338.8" y="42.59" width="1.4" height="2.6" fill="#2fb34a"/>
<rect x="346.3" y="49.97" width="1.4" height="2.6" fill="#2fb34a"/>
<rect x="352.3" y="57.15" width="1.4" height="2.6" fill="#2fb34a"/>
<rect x="357.3" y="65.94" width="1.4" height="2.6" fill="#2fb34a"/>
<rect x="363.3" y="74.2" width="1.4" height="2.6" fill="#2fb34a"/>
<rect x="365.90000000000003" y="76.43" width="1.4" height="2.6" fill="#2fb34a"/>
<rect x="371.3" y="86.41" width="1.4" height="2.6" fill="#2fb34a"/>
<rect x="379.3" y="94.68" width="1.4" height="2.6" fill="#2fb34a"/>
<rect x="381.90000000000003" y="95.85" width="1.4" height="2.6" fill="#2fb34a"/>
<rect x="387.3" y="101.36" width="1.4" height="2.6" fill="#2fb34a"/>
<rect x="389.90000000000003" y="103.61" width="1.4" height="2.6" fill="#2fb34a"/>
<rect x="396.3" y="106.36" width="1.4" height="2.6" fill="#2fb34a"/>
<rect x="398.90000000000003" y="107.69" width="1.4" height="2.6" fill="#2fb34a"/>
<rect x="401.5" y="108.54" width="1.4" height="2.6" fill="#2fb34a"/>
<rect x="409.3" y="111.25" width="1.4" height="2.6" fill="#2fb34a"/>
<rect x="411.90000000000003" y="111.31" width="1.4" height="2.6" fill="#2fb34a"/>
<rect x="419.3" y="114.92" width="1.4" height="2.6" fill="#2fb34a"/>
<rect x="421.90000000000003" y="114.96" width="1.4" height="2.6" fill="#2fb34a"/>
<rect x="424.5" y="115.0" width="1.4" height="2.6" fill="#2fb34a"/>
<rect x="427.1" y="115.04" width="1.4" height="2.6" fill="#2fb34a"/>
<rect x="433.1" y="118.1" width="1.4" height="2.6" fill="#2fb34a"/>
<rect x="435.5" y="118.1" width="1.4" height="2.6" fill="#2fb34a"/>
<rect x="438.5" y="118.1" width="1.4" height="2.6" fill="#2fb34a"/>
<rect x="440.8" y="118.1" width="1.4" height="2.6" fill="#2fb34a"/>
<rect x="443.90000000000003" y="118.1" width="1.4" height="2.6" fill="#2fb34a"/>
<rect x="447.0" y="118.1" width="1.4" height="2.6" fill="#2fb34a"/>
<rect x="448.5" y="118.1" width="1.4" height="2.6" fill="#2fb34a"/>
<rect x="456.2" y="118.1" width="1.4" height="2.6" fill="#2fb34a"/>
<rect x="458.5" y="118.1" width="1.4" height="2.6" fill="#2fb34a"/>
<rect x="462.40000000000003" y="118.1" width="1.4" height="2.6" fill="#2fb34a"/>
<rect x="465.5" y="118.1" width="1.4" height="2.6" fill="#2fb34a"/>
<rect x="470.1" y="118.1" width="1.4" height="2.6" fill="#2fb34a"/>
<rect x="473.1" y="118.1" width="1.4" height="2.6" fill="#2fb34a"/>
<rect x="480.1" y="118.1" width="1.4" height="2.6" fill="#2fb34a"/>
<rect x="483.90000000000003" y="118.1" width="1.4" height="2.6" fill="#2fb34a"/>
<rect x="487.0" y="118.1" width="1.4" height="2.6" fill="#2fb34a"/>
<rect x="490.1" y="118.1" width="1.4" height="2.6" fill="#2fb34a"/>
<rect x="492.40000000000003" y="118.1" width="1.4" height="2.6" fill="#2fb34a"/>
<rect x="504.3" y="118.1" width="1.4" height="2.6" fill="#2fb34a"/>
<rect x="338.8" y="42.17" width="1.4" height="2.6" fill="#2fb34a"/>
<rect x="347.8" y="56.01" width="1.4" height="2.6" fill="#2fb34a"/>
<rect x="388.3" y="125.23" width="1.4" height="2.6" fill="#2fb34a"/>
<rect x="404.7" y="128.9" width="1.4" height="2.6" fill="#2fb34a"/>
<rect x="413.3" y="128.9" width="1.4" height="2.6" fill="#2fb34a"/>
<rect x="422.0" y="128.9" width="1.4" height="2.6" fill="#2fb34a"/>
<rect x="429.8" y="128.9" width="1.4" height="2.6" fill="#2fb34a"/>
<rect x="435.8" y="128.9" width="1.4" height="2.6" fill="#2fb34a"/>
<polyline points="68.8,42.5 74,44.8 76.3,46.3 77.1,49.3 80.1,49.3 81.6,52.3 83.1,56.1 84.6,59.9 86.1,65.9 95.2,66.3 95.9,69.7 105,69.7 105.4,73 117.8,73.4 118.5,77.5 123.4,78 123.8,79.9 126,82.1 127.5,85.9 151.7,85.9 152.4,97.2 160,98 160.4,112.3 167.5,112.7" fill="none" stroke="#0d3f7f" stroke-width="1.7" stroke-linecap="butt" stroke-linejoin="miter" stroke-dasharray="3.4 1.8"/>
<polyline points="68.8,42.5 74,44.8 80.1,47 86.1,48.6 90.6,53.1 94.4,54.6 100.4,56.4 105.7,56.1 110.2,58.4 112.5,60.6 117.8,62.9 120.8,65.1 124.5,66.3 134.3,66.8 135.8,68.9 150.9,69.3 153.2,71.3 156.2,72.3 160.7,73.8 165.2,75.4 167.5,77.6 176.7,77.8 178.1,79.4 180.1,84.5 184.8,84.8 185.9,86.4 189.5,86.8 189.9,88.6 198.3,88.6 198.9,91.5 203.6,91.5 204.3,96.2 236,96.2" fill="none" stroke="#cc0031" stroke-width="1.75" stroke-linecap="butt" stroke-linejoin="miter"/>
<polyline points="338.9,44 342.4,45.6 343.2,49.5 344.3,51 345.4,54.4 346.2,57.8 349.2,58.2 349.6,61.6 350,63.1 350.7,68 354.1,68.8 355,73.1 355.7,78.7 357.8,80 359.9,84.2 360.6,87.7 361.3,90.7 363.8,94.4 368.2,94.4 368.2,104.5 373.2,105.1 373.8,108.9 375.1,113.3 376.4,117.7 377.6,123.3 386.4,123.6 386.6,127.3 401.5,127.5 401.8,131 436.7,131" fill="none" stroke="#0d3f7f" stroke-width="1.7" stroke-linecap="butt" stroke-linejoin="miter" stroke-dasharray="3.4 1.8"/>
<polyline points="338.9,44.2 341.7,46.5 345,48 345.8,50.3 348.1,53.7 351.8,55.9 353.7,61.2 356.3,63.9 358.6,69.5 360.1,71.4 361.9,74.5 366.8,78.7 370.2,85.6 372.3,89 373.8,91.9 377.6,95.7 384.5,98.8 387.7,103.2 391.4,106.4 396.5,108.2 400.2,110.1 405,111.4 408.1,113.3 416.2,113.5 419,117 431.3,117.2 433.3,120.2 505,120.2" fill="none" stroke="#cc0031" stroke-width="1.75" stroke-linecap="butt" stroke-linejoin="miter"/>
<polyline points="67.2,321.3 70.1,320.5 79.3,320.3 81,319.4 94.3,319.2 95.5,318.3 110.5,318.1 112.8,317.3 153.5,317.1 154,315.4 169.6,315.4 169.8,314.3 184,314.3 184.2,312.2 230.4,312.2" fill="none" stroke="#0d3f7f" stroke-width="1.7" stroke-linecap="butt" stroke-linejoin="miter" stroke-dasharray="3.4 1.8"/>
<polyline points="67.2,321.7 70.7,320.9 79.3,320.6 81,319.8 94.3,319.4 96.6,319.1 110.5,318.8 124.6,318.6 125.2,317.9 154.6,317.9 155.2,317.5 170.8,317.5 171.3,316.8 184.2,316.8 184.5,315.6 230.4,315.6" fill="none" stroke="#cc0031" stroke-width="1.75" stroke-linecap="butt" stroke-linejoin="miter"/>
<polyline points="337.8,319.7 342.6,314.9 346,308.7 348.8,305.9 353,301.1 357.1,294.9 359.2,288 361.9,283.1 366.1,279 368.8,276.9 371,269.7 374,265.2 378.6,259.9 383.1,258.4 386.9,256.1 389.9,252.3 393.6,250.8 397.4,249.3 401.9,247.8 406.5,247.1 410.2,245.9 414.7,245.3 419.3,245.6 421.5,244.3 425,242.5 434.3,243 437.5,241.2 499.9,241.2" fill="none" stroke="#0d3f7f" stroke-width="1.7" stroke-linecap="butt" stroke-linejoin="miter" stroke-dasharray="3.4 1.8"/>
<polyline points="337.8,319.7 341.2,317.7 344.7,314.9 346,312.8 350.2,309.4 353,305.9 355.7,302.5 358.5,297.6 362.6,292.8 366.1,289.3 368.8,286.3 371.8,280.2 374.8,277.2 378.6,273.4 383.1,271.2 386.9,270.4 389.9,266.7 393.6,263.9 398.2,262.9 401.2,261.8 405.7,260.6 409.5,259.1 411.7,257.9 417.8,257.9 421.5,256.1 425,255.4 434.3,255.6 437.5,252.8 499.9,252.8" fill="none" stroke="#cc0031" stroke-width="1.75" stroke-linecap="butt" stroke-linejoin="miter"/>
<rect x="0" y="0" width="520" height="1.2" fill="#000"/>
<rect x="0" y="0" width="1.2" height="398" fill="#000"/>
<rect x="518.6" y="0" width="1.4" height="398" fill="#000"/>
<rect x="0" y="396" width="520" height="2" fill="#000"/>
<line x1="51.2" y1="387" x2="71.9" y2="387" stroke="#cc0031" stroke-width="1.5"/>
<text x="76.7" y="390" font-size="7.6" text-anchor="start" font-weight="normal" font-style="normal" fill="#000" textLength="32.9" lengthAdjust="spacingAndGlyphs" stroke="#000" stroke-width="0.15">DLCOcSB</text>
<text x="111.8" y="390" font-size="6.9" text-anchor="start" font-weight="normal" font-style="normal" fill="#333" textLength="35.3" lengthAdjust="spacingAndGlyphs">initial&gt;60%</text>
<text x="148.6" y="390" font-size="7.2" text-anchor="start" font-weight="normal" font-style="normal" fill="#000" textLength="67.6" lengthAdjust="spacingAndGlyphs">of predicted (n = 246)</text>
<line x1="290.8" y1="386.8" x2="312" y2="386.8" stroke="#0d3f7f" stroke-width="1.4" stroke-dasharray="3.4 2.2"/>
<text x="316.2" y="390" font-size="7.6" text-anchor="start" font-weight="normal" font-style="normal" fill="#000" textLength="33.2" lengthAdjust="spacingAndGlyphs" stroke="#000" stroke-width="0.15">DLCOcSB</text>
<text x="351.8" y="390" font-size="6.9" text-anchor="start" font-weight="normal" font-style="normal" fill="#333" textLength="35.3" lengthAdjust="spacingAndGlyphs">initial≤60%</text>
<text x="388.6" y="390" font-size="7.2" text-anchor="start" font-weight="normal" font-style="normal" fill="#000" textLength="63.4" lengthAdjust="spacingAndGlyphs">of predicted (n = 31)</text>
</svg></body></html>
